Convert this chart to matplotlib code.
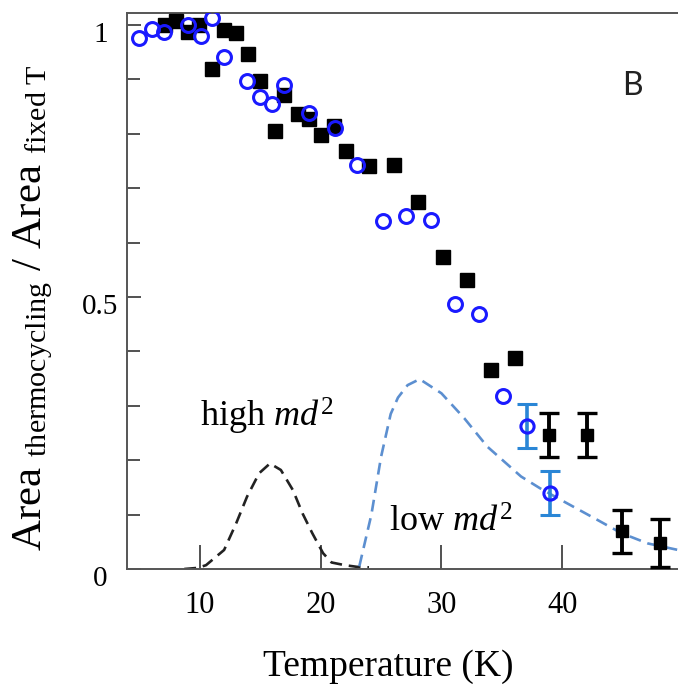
import numpy as np
import matplotlib
matplotlib.use("Agg")
import matplotlib.pyplot as plt
from matplotlib.ticker import MultipleLocator, FixedLocator
from matplotlib.transforms import ScaledTranslation

plt.rcParams['font.family'] = ['Liberation Serif', 'DejaVu Serif']
plt.rcParams['mathtext.fontset'] = 'custom'
plt.rcParams['mathtext.rm'] = 'Liberation Serif'
plt.rcParams['mathtext.it'] = 'Liberation Serif:italic'

# ---- data ----
sq_T = [7.1, 8.0, 9.0, 9.9, 11.0, 12.0, 13.0, 14.0, 15.0, 16.2, 17.0, 18.1, 19.0,
        20.0, 21.1, 22.1, 24.0, 26.1, 28.1, 30.1, 32.1, 34.1, 36.1]
sq_y = [1.0, 1.008, 0.988, 1.0, 0.92, 0.99, 0.985, 0.947, 0.897, 0.805, 0.871, 0.836, 0.828,
        0.798, 0.814, 0.768, 0.741, 0.743, 0.675, 0.574, 0.532, 0.366, 0.387]

sq_err_T = [38.9, 42.1, 44.95, 48.1]
sq_err_y = [0.246, 0.246, 0.069, 0.047]
sq_err_e = [0.04, 0.04, 0.04, 0.044]

ci_T = [4.96, 6.0, 7.0, 9.0, 10.1, 11.0, 12.0, 13.9, 15.0, 16.0, 17.0, 19.0, 21.2,
        23.0, 25.2, 27.1, 29.1, 31.1, 33.1, 35.1]
ci_y = [0.977, 0.992, 0.988, 1.0, 0.98, 1.012, 0.942, 0.897, 0.867, 0.855, 0.89, 0.838, 0.81,
        0.743, 0.64, 0.649, 0.641, 0.487, 0.468, 0.318]

ci_err_T = [37.1, 39.0]
ci_err_y = [0.263, 0.140]
ci_err_e = [0.04, 0.041]

high_T = [8.7, 9.8, 10.5, 12.0, 13.0, 13.9, 14.9, 15.8, 16.7, 17.7, 18.5, 19.3, 20.2,
          20.9, 22.0, 23.0, 24.0]
high_y = [0.0, 0.002, 0.007, 0.035, 0.084, 0.133, 0.176, 0.194, 0.182, 0.145, 0.102, 0.066,
          0.029, 0.012, 0.007, 0.004, 0.003]

low_T = [23.2, 24.2, 25.0, 25.8, 26.4, 27.2, 28.2, 30.0, 31.9, 33.8, 36.6, 38.2, 39.9,
         42.7, 44.9, 47.1, 49.6]
low_y = [0.005, 0.10, 0.206, 0.285, 0.315, 0.338, 0.349, 0.323, 0.277, 0.225, 0.17, 0.148,
         0.127, 0.093, 0.066, 0.047, 0.035]

xticks = [10, 20, 30, 40]
yticks = [0, 0.5, 1]
ytick_labels = ['0', '0.5', '1']

# ---- figure ----
W, H = 678, 692
fig = plt.figure(figsize=(W / 100, H / 100), dpi=100)
L, R, B, T = 126.7, 678, 569, 13
ax = fig.add_axes([L / W, 1 - B / H, (R - L) / W, (B - T) / H])
ax.set_xlim(3.93, 49.6)
ax.set_ylim(0, (B - T) / 544)

blue = '#1a1aff'
ebblue = '#2a86d6'
curveblue = '#5c8fd0'

ax.plot(high_T, high_y, color='#222222', lw=1.9, dashes=(4.5, 2.6), zorder=2)
ax.plot(low_T, low_y, color=curveblue, lw=1.9, dashes=(4.5, 2.6), zorder=2)

ax.plot(sq_T, sq_y, ls='none', marker='s', ms=10.5, mfc='black', mec='black', zorder=3)
ax.plot(ci_T, ci_y, ls='none', marker='o', ms=10, mfc='none', mec=blue, mew=2.2, zorder=4)

ax.errorbar(ci_err_T, ci_err_y, yerr=ci_err_e, fmt='o', ms=9.5, mfc='none', mec=blue, mew=2.2,
            ecolor=ebblue, elinewidth=2.6, capsize=7, capthick=2.4, zorder=5)
ax.errorbar(sq_err_T, sq_err_y, yerr=sq_err_e, fmt='s', ms=8.5, mfc='black', mec='black',
            ecolor='black', elinewidth=2.8, capsize=7, capthick=2.4, zorder=5, clip_on=False)

# axes styling
for s in ['left', 'bottom', 'top']:
    ax.spines[s].set_color('#555555')
    ax.spines[s].set_linewidth(1.4)
ax.spines['right'].set_visible(False)

ax.xaxis.set_major_locator(FixedLocator(xticks))
ax.set_xticklabels([str(t) for t in xticks])
ax.yaxis.set_major_locator(FixedLocator(yticks))
ax.yaxis.set_minor_locator(MultipleLocator(0.1))
ax.set_yticklabels(ytick_labels)
ax.tick_params(axis='x', which='major', direction='in', length=17, width=1.2,
               color='#333333', labelsize=22, pad=16)
ax.tick_params(axis='y', which='both', direction='in', length=10, width=1.2,
               color='#333333', labelsize=21, pad=19)
ax.tick_params(axis='y', which='minor', length=9)
ax.tick_params(top=False, right=False, which='both')
off = ScaledTranslation(0, -5 / 72, fig.dpi_scale_trans)
for lab in ax.get_yticklabels():
    lab.set_ha('center')
    lab.set_transform(lab.get_transform() + off)

ax.set_xlabel('Temperature (K)', fontsize=27)
ax.xaxis.label.set_va('center')
ax.xaxis.set_label_coords((388 - L) / (R - L), -(667 - B) / (B - T))

ax.set_ylabel(r'Area $_{\mathrm{thermocycling}}$ / Area $_{\mathrm{fixed\ T}}$', fontsize=31)
ax.yaxis.label.set_va('center')
ax.yaxis.set_label_coords((33 - L) / (R - L), (B - 308) / (B - T))

ax.text(10.0, 0.262, r'high $md^2$', fontsize=26, ha='left', va='baseline')
ax.text(25.7, 0.068, r'low $md^2$', fontsize=26, ha='left', va='baseline')
ax.text(44.97, 0.871, 'B', fontsize=23, family='Lato', ha='left', va='baseline', color='#222222')

fig.savefig('out.png', dpi=100)
